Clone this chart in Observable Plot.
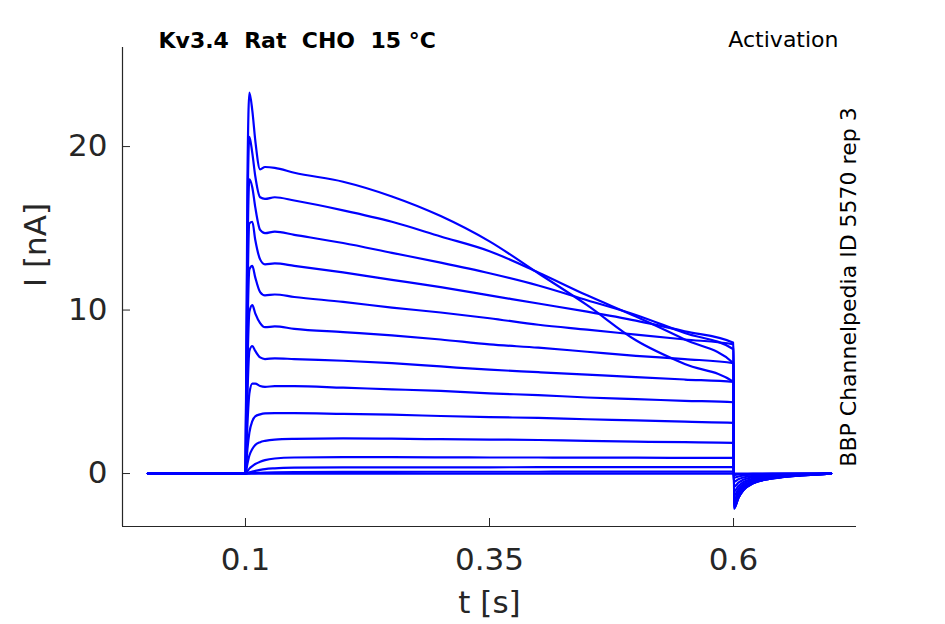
<!DOCTYPE html>
<html>
<head>
<meta charset="utf-8">
<script src="https://cdn.jsdelivr.net/npm/d3@7"></script>
<script src="https://cdn.jsdelivr.net/npm/@observablehq/plot@0.6"></script>
<style>
  body { margin: 0; background: #fff; }
  svg text { white-space: pre; }
</style>
</head>
<body>
<div id="chart"></div>
<script>
// Sample times (s)
const times = [0, 0.1, 0.102, 0.104, 0.107, 0.11, 0.115, 0.12, 0.13, 0.15, 0.2, 0.25, 0.3, 0.35, 0.4, 0.45, 0.5, 0.55, 0.6, 0.6005, 0.605, 0.61, 0.62, 0.64, 0.67, 0.7];

// Current traces (nA), one per voltage step
const trace01 = [0, 0, 18.0, 23.3, 22.2, 20.4, 18.6, 18.75, 18.7, 18.4, 17.85, 16.95, 15.75, 14.2, 12.25, 10.3, 8.15, 6.7, 5.6, -2.15, -1.5, -1.03, -0.6, -0.3, -0.11, 0];
const trace02 = [0, 0, 15.5, 20.6, 19.6, 18.2, 16.9, 16.8, 16.9, 16.7, 16.1, 15.4, 14.5, 13.6, 12.3, 10.9, 9.6, 8.2, 6.75, -2.15, -1.5, -1.03, -0.6, -0.3, -0.11, 0];
const trace03 = [0, 0, 13.0, 18.0, 17.5, 16.3, 14.9, 14.7, 14.8, 14.6, 14.1, 13.5, 12.9, 12.25, 11.5, 10.6, 9.7, 8.6, 7.6, -2.1, -1.47, -1.0, -0.59, -0.29, -0.1, 0];
const trace04 = [0, 0, 10.5, 15.3, 15.4, 14.3, 13.1, 12.8, 12.85, 12.7, 12.3, 11.85, 11.4, 10.9, 10.4, 9.9, 9.35, 8.7, 8.0, -2.05, -1.43, -0.98, -0.57, -0.29, -0.1, 0];
const trace05 = [0, 0, 8.5, 12.5, 12.7, 12.0, 11.1, 10.9, 10.95, 10.8, 10.5, 10.15, 9.85, 9.5, 9.1, 8.8, 8.5, 8.2, 7.9, -1.95, -1.36, -0.94, -0.55, -0.27, -0.1, 0];
const trace06 = [0, 0, 6.5, 9.9, 10.3, 9.8, 9.2, 8.95, 9.0, 8.85, 8.65, 8.45, 8.2, 7.9, 7.7, 7.45, 7.2, 7.0, 6.75, -1.8, -1.26, -0.86, -0.5, -0.25, -0.09, 0];
const trace07 = [0, 0, 4.8, 7.5, 7.8, 7.5, 7.1, 7.0, 7.05, 7.0, 6.9, 6.75, 6.55, 6.35, 6.2, 6.05, 5.9, 5.75, 5.6, -1.6, -1.12, -0.77, -0.45, -0.22, -0.08, 0];
const trace08 = [0, 0, 3.0, 4.9, 5.5, 5.5, 5.35, 5.3, 5.35, 5.35, 5.25, 5.15, 5.05, 4.9, 4.8, 4.65, 4.55, 4.45, 4.36, -1.35, -0.95, -0.65, -0.38, -0.19, -0.07, 0];
const trace09 = [0, 0, 1.5, 2.5, 3.2, 3.5, 3.62, 3.68, 3.7, 3.7, 3.65, 3.6, 3.52, 3.45, 3.4, 3.32, 3.25, 3.17, 3.1, -1.1, -0.77, -0.53, -0.31, -0.15, -0.06, 0];
const trace10 = [0, 0, 0.6, 1.1, 1.5, 1.75, 1.92, 2.0, 2.08, 2.12, 2.15, 2.13, 2.1, 2.08, 2.05, 2.0, 1.95, 1.92, 1.88, -0.8, -0.56, -0.38, -0.22, -0.11, -0.04, 0];
const trace11 = [0, 0, 0.15, 0.3, 0.45, 0.58, 0.72, 0.82, 0.92, 0.98, 1.0, 1.0, 0.99, 0.98, 0.98, 0.97, 0.97, 0.96, 0.96, -0.5, -0.35, -0.24, -0.14, -0.07, -0.03, 0];
const trace12 = [0, 0, 0.03, 0.07, 0.12, 0.16, 0.22, 0.27, 0.32, 0.36, 0.38, 0.38, 0.38, 0.38, 0.39, 0.39, 0.39, 0.39, 0.39, -0.25, -0.18, -0.12, -0.07, -0.04, -0.01, 0];
const trace13 = [0, 0, 0, 0.01, 0.02, 0.03, 0.04, 0.05, 0.07, 0.09, 0.1, 0.1, 0.11, 0.11, 0.11, 0.12, 0.12, 0.12, 0.12, -0.08, -0.06, -0.04, -0.02, -0.01, 0, 0];
const trace14 = [0, 0, 0, 0, 0, 0, 0, 0, 0, 0, 0, 0, 0, 0, 0, 0, 0, 0, 0, 0, 0, 0, 0, 0, 0, 0];

const traces = [trace01, trace02, trace03, trace04, trace05, trace06, trace07, trace08, trace09, trace10, trace11, trace12, trace13, trace14];

// Axes
const xTicks = [0.1, 0.35, 0.6];
const yTicks = [0, 10, 20];
const xDomain = [-0.026, 0.726];
const yDomain = [-3.24, 26.06];

// Texts
const titleText = "Kv3.4  Rat  CHO  15 °C";
const protocolText = "Activation";
const sideText = "BBP Channelpedia ID 5570 rep 3";
const xLabel = "t [s]";
const yLabel = "I [nA]";

const data = traces.flatMap((vals, k) => vals.map((v, i) => ({t: times[i], I: v, trace: k})));

const axisColor = "#262626";

const chart = Plot.plot({
  width: 945,
  height: 624,
  marginLeft: 122,
  marginRight: 89,
  marginTop: 47,
  marginBottom: 98,
  style: {fontFamily: "DejaVu Sans", background: "#fff", overflow: "visible"},
  x: {domain: xDomain},
  y: {domain: yDomain},
  marks: [
    Plot.line(data, {x: "t", y: "I", z: "trace", stroke: "#0000ff", strokeWidth: 2.2, strokeLinejoin: "round", curve: "monotone-x"}),
    Plot.ruleY([yDomain[0]], {stroke: axisColor, strokeWidth: 1.2}),
    Plot.ruleX([xDomain[0]], {stroke: axisColor, strokeWidth: 1.2}),
    Plot.axisX({ticks: xTicks, tickFormat: d => String(d), tickSize: -8, tickPadding: 29, fontSize: 31, color: axisColor, label: null}),
    Plot.axisY({ticks: yTicks, tickFormat: d => String(d), tickSize: -8, tickPadding: 23, fontSize: 31, color: axisColor, label: null}),
    Plot.text([xLabel], {text: d => d, frameAnchor: "bottom", dy: 77, lineAnchor: "middle", fontSize: 31, fill: axisColor}),
    Plot.text([yLabel], {text: d => d, frameAnchor: "left", dx: -86, rotate: -90, lineAnchor: "middle", fontSize: 31, fill: axisColor}),
    Plot.text([titleText], {text: d => d, frameAnchor: "top-left", dx: 36, dy: -7, textAnchor: "start", lineAnchor: "middle", fontSize: 22, fontWeight: "bold", fill: "black"}),
    Plot.text([protocolText], {text: d => d, frameAnchor: "top-right", dx: -18, dy: -8, textAnchor: "end", lineAnchor: "middle", fontSize: 22, fill: "black"}),
    Plot.text([sideText], {text: d => d, frameAnchor: "right", dx: -8, rotate: -90, lineAnchor: "middle", textAnchor: "middle", fontSize: 22, fill: "black"})
  ]
});

document.getElementById("chart").appendChild(chart);
</script>
</body>
</html>
